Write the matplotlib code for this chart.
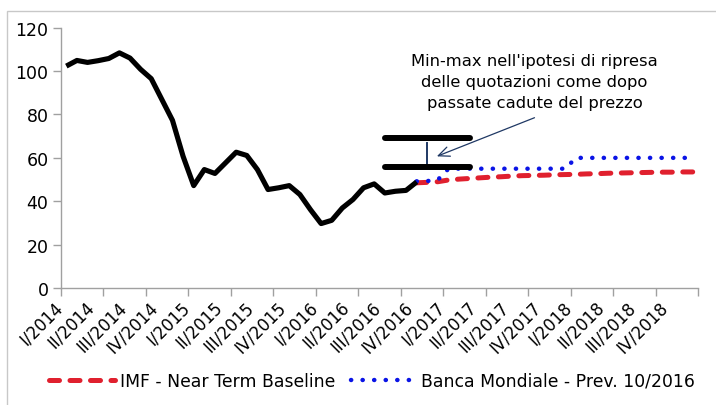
import matplotlib
matplotlib.use("Agg")
import matplotlib.pyplot as plt
from matplotlib.patches import Rectangle
import numpy as np

plt.rcParams['font.family'] = ['DejaVu Sans']

# ---------------- data ----------------
quarter_labels = ["I/2014", "II/2014", "III/2014", "IV/2014",
                  "I/2015", "II/2015", "III/2015", "IV/2015",
                  "I/2016", "II/2016", "III/2016", "IV/2016",
                  "I/2017", "II/2017", "III/2017", "IV/2017",
                  "I/2018", "II/2018", "III/2018", "IV/2018"]
n_months = 60  # Jan 2014 .. Dec 2018

# historical price index (monthly, Jan 2014 - Oct 2016)
hist_values = [102.3, 104.9, 104.0, 104.8, 105.8, 108.4, 106.0, 100.8, 96.5, 86.9,
               77.3, 60.7, 47.2, 54.6, 52.8, 57.7, 62.6, 61.1, 54.6, 45.4,
               46.2, 47.2, 43.1, 36.1, 29.7, 31.2, 36.9, 40.8, 46.2, 48.0,
               43.8, 44.6, 45.0, 48.9]

# forecasts (monthly, Oct 2016 - Dec 2018)
fc_start = 33
imf_values = [48.5, 48.7, 49.0, 49.8, 50.2, 50.5, 50.8, 51.1, 51.3, 51.6,
              51.8, 51.9, 52.0, 52.2, 52.3, 52.4, 52.6, 52.7, 52.9, 53.0,
              53.1, 53.2, 53.3, 53.4, 53.4, 53.5, 53.5]
wb_values = [49.2, 49.3, 49.9, 55, 55, 55, 55, 55, 55, 55,
             55, 55, 55, 55, 55, 60, 60, 60, 60, 60,
             60, 60, 60, 60, 60, 60, 60]

# min-max range (scenario of recovery like past price falls)
range_start, range_end = 30, 38
range_min, range_max = 56, 69
range_mark = 34
range_mark_top = 67

series_names = ["IMF - Near Term Baseline", "Banca Mondiale - Prev. 10/2016"]
annotation = "Min-max nell'ipotesi di ripresa\ndelle quotazioni come dopo\npassate cadute del prezzo"

# ---------------- figure ----------------
fig = plt.figure(figsize=(7.16, 4.06), dpi=100)
ax = fig.add_axes([61/716, 1-289/406, (698-61)/716, (289-28.7)/406])

hx = np.arange(len(hist_values))
fx = np.arange(fc_start, fc_start + len(imf_values))

ax.plot(hx, hist_values, color='black', lw=3.7, solid_joinstyle='round',
        solid_capstyle='butt', zorder=4)
l_imf, = ax.plot(fx, imf_values, color='#E0202E', lw=3.6, dashes=(2.0, 2.1),
                 dash_capstyle='round', zorder=3, label=series_names[0])
l_wb, = ax.plot(fx, wb_values, color='#0A14E6', lw=3.2, dashes=(0.05, 2.55),
                dash_capstyle='round', zorder=3, label=series_names[1])

# min-max bars
ax.plot([range_start, range_end], [range_max, range_max], color='black', lw=4.3,
        solid_capstyle='round', zorder=5)
ax.plot([range_start, range_end], [range_min, range_min], color='black', lw=4.3,
        solid_capstyle='round', zorder=5)
ax.plot([range_mark, range_mark], [range_min, range_mark_top], color='#1F3864',
        lw=1.4, zorder=4)

ax.text(44.1, 95.4, annotation, ha='center', va='center', fontsize=11.8,
        linespacing=1.5)
ax.annotate('', xy=(34.9, 60.7), xytext=(44.1, 78.5),
            arrowprops=dict(arrowstyle='->, head_length=0.8, head_width=0.35',
                            color='#1F3864', lw=0.9, shrinkA=0, shrinkB=0))

# axes styling
ax.set_xlim(-0.5, n_months - 0.5)
ax.set_ylim(0, 120)
ax.set_yticks(np.arange(0, 121, 20))
ax.tick_params(axis='y', labelsize=12.5, length=6, width=1, color='#A0A0A0',
               pad=3, direction='out')
ax.set_xticks(np.arange(-0.5, n_months, 4))
ax.set_xticklabels([])
ax.set_xticks(np.arange(0, n_months, 3), minor=True)
ax.set_xticklabels(quarter_labels, minor=True, rotation=45, ha='right',
                   fontsize=12)
ax.tick_params(axis='x', which='major', length=6, width=1, color='#A0A0A0',
               direction='out')
ax.tick_params(axis='x', which='minor', length=0, pad=7)
for s in ['top', 'right']:
    ax.spines[s].set_visible(False)
for s in ['left', 'bottom']:
    ax.spines[s].set_color('#A0A0A0')
    ax.spines[s].set_linewidth(1)

leg = fig.legend(handles=[l_imf, l_wb], loc='center', ncol=2,
                 bbox_to_anchor=(0.52, 1-382/406), frameon=False,
                 fontsize=12.4, handlelength=3.8, handletextpad=0.3,
                 columnspacing=0.9)

# outer chart border
fig.add_artist(Rectangle((7/716, -0.1), 1.2, 1.1 - 12/406, fill=False,
                         edgecolor='#C8C8C8', lw=1, transform=fig.transFigure))

fig.savefig('out.png', dpi=100)
